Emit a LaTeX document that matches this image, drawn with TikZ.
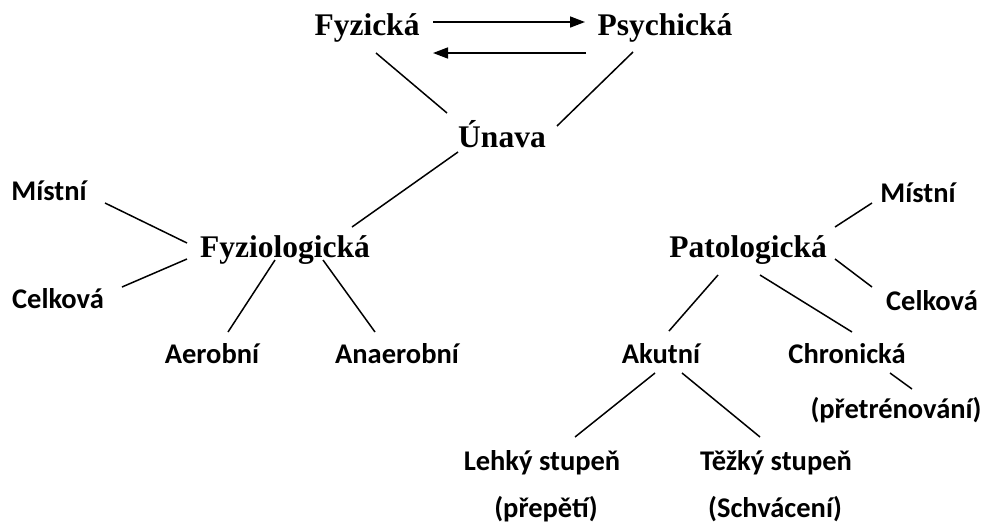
\documentclass[tikz,border=0pt]{standalone}
\usepackage{fontspec}
\setmainfont{Liberation Serif}
\newfontfamily\calfont{Carlito}
\usepackage{tikz}
\usetikzlibrary{calc,arrows.meta}
\tikzset{
  hlavni/.style={draw=none, inner sep=0pt, anchor=base,
    font=\fontsize{31.5}{36}\selectfont\bfseries},
  vedlejsi/.style={draw=none, inner sep=0pt, anchor=base,
    font=\fontsize{28.5}{33}\selectfont\calfont\bfseries},
  spoj/.style={line width=1.5pt},
  sipka/.style={line width=1.6pt, -{Triangle[length=15pt,width=11pt]}}
}

\begin{document}
\begin{tikzpicture}[x=1pt, y=-1pt]

            \useasboundingbox (0,0) rectangle (990,531);
            % horni trojuhelnik
            \node [hlavni] (fyz) at (367,35) {Fyzická};
            \node [hlavni] (psy) at (665,35) {Psychická};
            \node [hlavni] (unava) at (502,147) {Únava};
            % druhy unavy
            \node [hlavni] (fyziol) at (285,257) {Fyziologická};
            \node [hlavni] (pat) at (748,257) {Patologická};
            \node [vedlejsi] (mistL) at (49,200) {Místní};
            \node [vedlejsi] (celkL) at (58,308) {Celková};
            \node [vedlejsi] (aer) at (212,363) {Aerobní};
            \node [vedlejsi] (anaer) at (397,363) {Anaerobní};
            \node [vedlejsi] (mistR) at (918,202) {Místní};
            \node [vedlejsi] (celkR) at (932,310) {Celková};
            \node [vedlejsi] (akut) at (661,363) {Akutní};
            \node [vedlejsi] (chron) at (847,363) {Chronická};
            \node [vedlejsi] (pretr) at (896,418) {(přetrénování)};
            \node [vedlejsi] (lehky) at (542,470) {Lehký stupeň};
            \node [vedlejsi] (tezky) at (776,470) {Těžký stupeň};
            \node [vedlejsi] (prepeti) at (546,517) {(přepětí)};
            \node [vedlejsi] (schvac) at (775,517) {(Schvácení)};

            \draw [sipka] ($(fyz.base)+(66,-13)$) -- ($(psy.base)+(-80,-13)$);
            \draw [sipka] ($(psy.base)+(-79,18)$) -- ($(fyz.base)+(66,18)$);

            \draw [spoj] ($(fyz.base)+(9,18)$) -- ($(unava.base)+(-55,-34)$);
            \draw [spoj] ($(psy.base)+(-32,17)$) -- ($(unava.base)+(55,-21)$);
            \draw [spoj] ($(unava.base)+(-44,5)$) -- ($(fyziol.base)+(67,-30)$);
            \draw [spoj] ($(mistL.base)+(56,3)$) -- ($(fyziol.base)+(-98,-14)$);
            \draw [spoj] ($(celkL.base)+(64,-21)$) -- ($(fyziol.base)+(-98,2)$);
            \draw [spoj] ($(fyziol.base)+(-10,3)$) -- ($(aer.base)+(16,-31)$);
            \draw [spoj] ($(fyziol.base)+(38,3)$) -- ($(anaer.base)+(-22,-31)$);
            \draw [spoj] ($(pat.base)+(87,-30)$) -- ($(mistR.base)+(-46,1)$);
            \draw [spoj] ($(pat.base)+(87,2)$) -- ($(celkR.base)+(-60,-23)$);
            \draw [spoj] ($(pat.base)+(-30,18)$) -- ($(akut.base)+(8,-32)$);
            \draw [spoj] ($(pat.base)+(12,18)$) -- ($(chron.base)+(5,-31)$);
            \draw [spoj] ($(chron.base)+(43,10)$) -- ($(pretr.base)+(16,-29)$);
            \draw [spoj] ($(akut.base)+(-6,10)$) -- ($(lehky.base)+(33,-33)$);
            \draw [spoj] ($(akut.base)+(21,10)$) -- ($(tezky.base)+(-16,-33)$);
        \end{tikzpicture}
\end{document}
